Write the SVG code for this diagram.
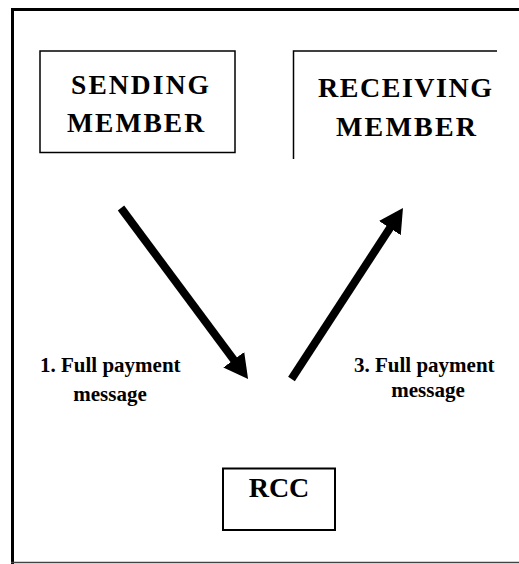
<svg xmlns="http://www.w3.org/2000/svg" width="519" height="564" viewBox="0 0 519 564">
<style>
.t{font-family:"Liberation Serif","Times New Roman",serif;font-weight:bold;fill:#000}
.box{fill:none;stroke:#000;stroke-width:1.5}
.arr{stroke:#000;stroke-width:8;fill:none}
</style>
<defs>
<marker id="ah" markerUnits="userSpaceOnUse" markerWidth="26" markerHeight="28" refX="16" refY="13" orient="auto">
<path d="M0,0 L24,13 L0,26 z" fill="#000"/>
</marker>
</defs>
<rect width="519" height="564" fill="#fff"/>
<g id="frame">
<line x1="11" y1="9.5" x2="519" y2="9.5" stroke="#000" stroke-width="3"/>
<line x1="12.5" y1="8" x2="12.5" y2="564" stroke="#000" stroke-width="3"/>
<line x1="11" y1="562.5" x2="519" y2="562.5" stroke="#444" stroke-width="1.5"/>
</g>
<g id="sending">
<rect class="box" x="40" y="51" width="195" height="101.5"/>
<text class="t" x="71" y="94" font-size="27.5" textLength="138" lengthAdjust="spacing">SENDING</text>
<text class="t" x="67" y="132" font-size="27.5" textLength="137" lengthAdjust="spacing">MEMBER</text>
</g>
<g id="receiving">
<polyline class="box" points="293.5,159 293.5,51 497,51"/>
<text class="t" x="318" y="97" font-size="28" textLength="174" lengthAdjust="spacing">RECEIVING</text>
<text class="t" x="336" y="136" font-size="28" textLength="140" lengthAdjust="spacing">MEMBER</text>
</g>
<g id="rcc">
<rect x="223" y="468.5" width="112" height="61.5" fill="none" stroke="#000" stroke-width="2"/>
<text class="t" x="279" y="497" font-size="28" text-anchor="middle">RCC</text>
</g>
<g id="connectors">
<line class="arr" x1="121" y1="208" x2="243.3" y2="372.6" marker-end="url(#ah)"/>
<line class="arr" x1="291.5" y1="379" x2="398.6" y2="214.7" marker-end="url(#ah)"/>
</g>
<g id="labels">
<text class="t" x="40" y="372" font-size="21">1. Full payment</text>
<text class="t" x="110" y="401" font-size="21" text-anchor="middle">message</text>
<text class="t" x="354" y="372" font-size="21">3. Full payment</text>
<text class="t" x="428" y="397" font-size="21" text-anchor="middle">message</text>
</g>
</svg>
